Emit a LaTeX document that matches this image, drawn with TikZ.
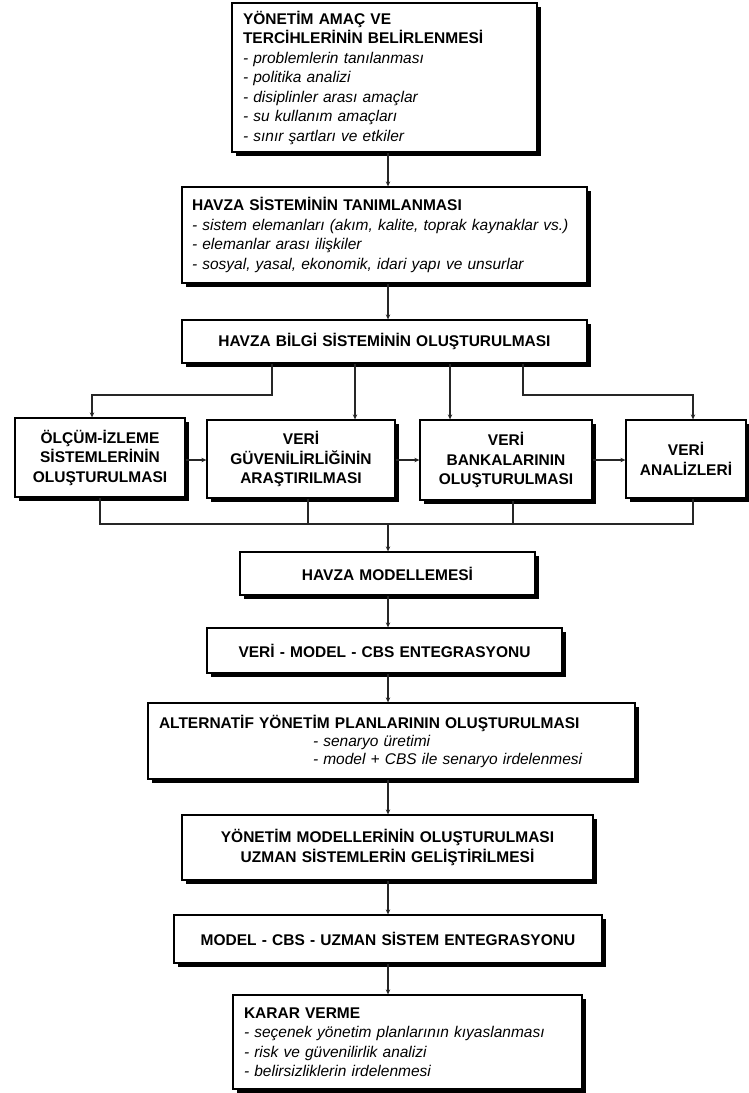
\documentclass[tikz,border=0pt]{standalone}
\usepackage{fontspec}
\setmainfont{Liberation Sans}
\usetikzlibrary{shadows,arrows.meta}
\begin{document}
\begin{tikzpicture}[x=1pt,y=-1pt,
  box/.style={draw=black, line width=1.3pt, fill=white, inner sep=0pt,
    drop shadow={opacity=1, fill=black, shadow xshift=3.5pt, shadow yshift=-3.5pt},
    font=\fontsize{15.5}{19.5}\selectfont},
  lbox/.style={box, align=left, inner xsep=11pt},
  cbox/.style={box, align=center, font=\fontsize{15.5}{19.5}\selectfont\bfseries},
  conn/.style={draw=black!85, line width=1.1pt},
  arr/.style={conn, -{Stealth[length=5pt,width=4.5pt]}}
]
\useasboundingbox[fill=white] (0,0) rectangle (748,1093);

\node[lbox, minimum width=305pt, minimum height=149pt, text width=283pt] (b1) at (384.5,77.5)
  {{\bfseries YÖNETİM AMAÇ VE\\TERCİHLERİNİN BELİRLENMESİ}\\
   \itshape - problemlerin tanılanması\\- politika analizi\\- disiplinler arası amaçlar\\- su kullanım amaçları\\- sınır şartları ve etkiler};

\node[lbox, inner xsep=10pt, minimum width=405pt, minimum height=96pt, text width=385pt] (b2) at (384.5,235)
  {{\bfseries HAVZA SİSTEMİNİN TANIMLANMASI}\\
   \itshape - sistem elemanları (akım, kalite, toprak kaynaklar vs.)\\- elemanlar arası ilişkiler\\- sosyal, yasal, ekonomik, idari yapı ve unsurlar};

\node[cbox, minimum width=405pt, minimum height=43pt, text width=397pt] (b3) at (384.5,341.5)
  {HAVZA BİLGİ SİSTEMİNİN OLUŞTURULMASI};

\node[cbox, minimum width=170pt, minimum height=79pt, text width=164pt] (b4) at (100,457.5)
  {ÖLÇÜM-İZLEME\\SİSTEMLERİNİN\\OLUŞTURULMASI};
\node[cbox, minimum width=188pt, minimum height=78pt, text width=182pt] (b5) at (301,459)
  {VERİ\\GÜVENİLİRLİĞİNİN\\ARAŞTIRILMASI};
\node[cbox, minimum width=172pt, minimum height=80pt, text width=166pt] (b6) at (506,460)
  {VERİ\\BANKALARININ\\OLUŞTURULMASI};
\node[cbox, minimum width=120pt, minimum height=78pt, text width=114pt] (b7) at (686,459)
  {VERİ\\ANALİZLERİ};

\node[cbox, minimum width=295pt, minimum height=43pt, text width=287pt] (b8) at (387.5,573.5)
  {HAVZA MODELLEMESİ};
\node[cbox, minimum width=355pt, minimum height=45pt, text width=347pt] (b9) at (384.5,650.5)
  {VERİ - MODEL - CBS ENTEGRASYONU};
\node[lbox, minimum width=487pt, minimum height=76pt, text width=465pt,
      font=\fontsize{15.5}{18}\selectfont] (b10) at (391.5,741)
  {{\bfseries ALTERNATİF YÖNETİM PLANLARININ OLUŞTURULMASI}\\
   \itshape\hspace*{154pt}- senaryo üretimi\\\hspace*{154pt}- model + CBS ile senaryo irdelenmesi};
\node[cbox, minimum width=411pt, minimum height=65pt, text width=403pt] (b11) at (387.5,847.5)
  {YÖNETİM MODELLERİNİN OLUŞTURULMASI\\UZMAN SİSTEMLERİN GELİŞTİRİLMESİ};
\node[cbox, minimum width=428pt, minimum height=48pt, text width=420pt] (b12) at (388,939)
  {MODEL - CBS - UZMAN SİSTEM ENTEGRASYONU};
\node[lbox, minimum width=349pt, minimum height=94pt, text width=327pt] (b13) at (407.5,1042)
  {{\bfseries KARAR VERME}\\
   \itshape - seçenek yönetim planlarının kıyaslanması\\- risk ve güvenilirlik analizi\\- belirsizliklerin irdelenmesi};

% connectors
\coordinate (col) at (388,0);
\draw[arr] (b1.south -| col) -- (b2.north -| col);
\draw[arr] (b2.south -| col) -- (b3.north -| col);

\coordinate (jA) at (272,395);
\coordinate (jB) at (92,395);
\coordinate (jC) at (523,395);
\coordinate (jD) at (693,395);
\coordinate (x5) at (355,0);
\coordinate (x6) at (450,0);
\draw[arr] (b3.south -| jA) -- (jA) -- (jB) -- (b4.north -| jB);
\draw[arr] (b3.south -| x5) -- (b5.north -| x5);
\draw[arr] (b3.south -| x6) -- (b6.north -| x6);
\draw[arr] (b3.south -| jC) -- (jC) -- (jD) -- (b7.north -| jD);

\coordinate (hy) at (0,460);
\draw[arr] (b4.east |- hy) -- (b5.west |- hy);
\draw[arr] (b5.east |- hy) -- (b6.west |- hy);
\draw[arr] (b6.east |- hy) -- (b7.west |- hy);

\coordinate (m4) at (100,524);
\coordinate (m5) at (308,524);
\coordinate (m6) at (513,524);
\coordinate (m7) at (693,524);
\draw[conn] (b4.south -| m4) -- (m4) -- (m7) -- (b7.south -| m7);
\draw[conn] (b5.south -| m5) -- (m5);
\draw[conn] (b6.south -| m6) -- (m6);
\draw[arr] (m4 -| col) -- (b8.north -| col);

\draw[arr] (b8.south -| col) -- (b9.north -| col);
\draw[arr] (b9.south -| col) -- (b10.north -| col);
\draw[arr] (b10.south -| col) -- (b11.north -| col);
\draw[arr] (b11.south -| col) -- (b12.north -| col);
\draw[arr] (b12.south -| col) -- (b13.north -| col);
\end{tikzpicture}
\end{document}
